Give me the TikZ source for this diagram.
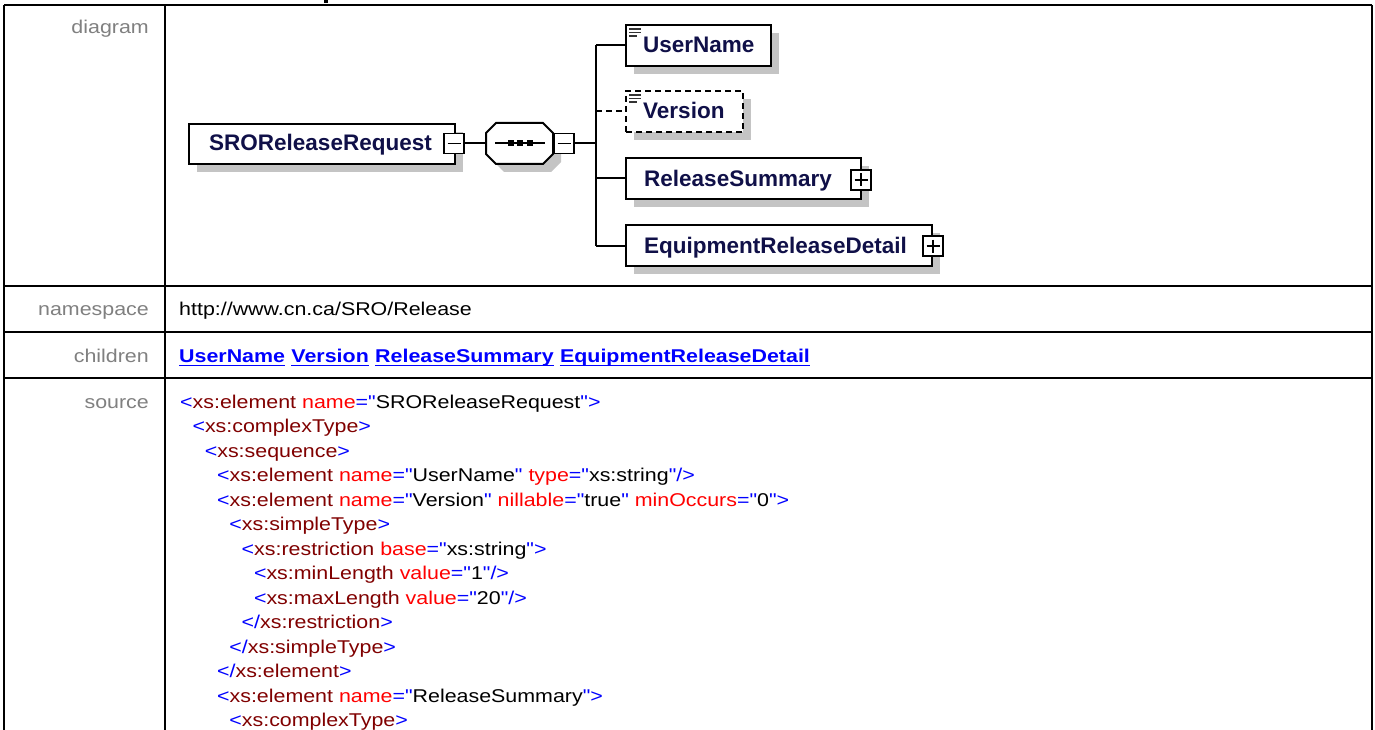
\documentclass[tikz,border=0pt]{standalone}
\usepackage{fontspec}
\setmainfont{Liberation Sans}[Ligatures=TeXOff]
\usetikzlibrary{calc}
\definecolor{xblue}{RGB}{0,0,255}
\definecolor{xtag}{RGB}{128,0,0}
\definecolor{xattr}{RGB}{255,0,0}
\definecolor{lblgray}{RGB}{128,128,128}
\definecolor{elnavy}{RGB}{16,16,72}
\definecolor{shadowgray}{RGB}{196,196,196}
\newcommand\hx[1]{\scalebox{1.157}[1]{#1}}
\newcommand\xo[1]{\textcolor{xblue}{<}\textcolor{xtag}{#1}}
\newcommand\xa[2]{\ \textcolor{xattr}{#1}\textcolor{xblue}{="}#2\textcolor{xblue}{"}}
\newcommand\xc{\textcolor{xblue}{>}}
\newcommand\xe{\textcolor{xblue}{/>}}
\newcommand\xz[1]{\textcolor{xblue}{</}\textcolor{xtag}{#1}\textcolor{xblue}{>}}
\begin{document}
\begin{tikzpicture}[x=1pt,y=-1pt,
  tbl/.style={line width=2.5pt,black},
  lbl/.style={inner sep=0pt,anchor=base east,text=lblgray,font=\fontsize{18.5}{22}\selectfont},
  tabtxt/.style={inner sep=0pt,anchor=base west,font=\fontsize{18.5}{22}\selectfont},
  link/.style={inner sep=0pt,anchor=base west,text=xblue,font=\fontsize{18.5}{22}\selectfont\bfseries},
  uline/.style={line width=1.5pt,xblue},
  elbox/.style={draw=black,line width=2pt,fill=white,inner sep=0pt},
  eltext/.style={inner sep=0pt,anchor=base west,text=elnavy,font=\fontsize{22.5}{27}\selectfont\bfseries},
  pmbox/.style={draw=black,line width=1.5pt,fill=white,minimum size=20pt,inner sep=0pt},
  sign/.style={line width=1.5pt,black},
  conn/.style={line width=2pt,black},
  shad/.style={fill=shadowgray},
  icon/.style={line width=1.5pt,black!80}]
\useasboundingbox (0,0) rectangle (1375,730);
\fill[white] (0,0) rectangle (1375,730);
% cut-off title fragment
\fill[black] (324,0) rectangle (328,3.5);
% table
\draw[tbl] (4,5) -- (1372,5);
\draw[tbl] (4,5) -- (4,732);
\draw[tbl] (1372,5) -- (1372,732);
\draw[tbl] (165,5) -- (165,732);
\draw[tbl] (4,286) -- (1372,286);
\draw[tbl] (4,332) -- (1372,332);
\draw[tbl] (4,378) -- (1372,378);
% labels
\node[lbl] (ldiag) at (149,34) {\hx{diagram}};
\node[lbl] (lns) at (149,315) {\hx{namespace}};
\node[lbl] (lch) at (149,362) {\hx{children}};
\node[lbl] (lsrc) at (149,408) {\hx{source}};
% namespace
\node[tabtxt] (ns) at (179,315) {\hx{http://www.cn.ca/SRO/Release}};
% children links
\node[link] (c1) at (179,362) {\hx{UserName}};
\node[link] (c2) at ($(c1.base east)+(6,0)$) {\hx{Version}};
\node[link] (c3) at ($(c2.base east)+(6,0)$) {\hx{ReleaseSummary}};
\node[link] (c4) at ($(c3.base east)+(6,0)$) {\hx{EquipmentReleaseDetail}};
\foreach \c in {c1,c2,c3,c4}{
  \draw[uline] ($(\c.base west)+(0,3.5)$) -- ($(\c.base east)+(0,3.5)$);
}
% source
\node[tabtxt] (s0) at (180,408) {\hx{\xo{xs:element}\xa{name}{SROReleaseRequest}\xc}};
\node[tabtxt] (s1) at (192.3,432.5) {\hx{\xo{xs:complexType}\xc}};
\node[tabtxt] (s2) at (204.6,457) {\hx{\xo{xs:sequence}\xc}};
\node[tabtxt] (s3) at (216.9,481.5) {\hx{\xo{xs:element}\xa{name}{UserName}\xa{type}{xs:string}\xe}};
\node[tabtxt] (s4) at (216.9,506) {\hx{\xo{xs:element}\xa{name}{Version}\xa{nillable}{true}\xa{minOccurs}{0}\xc}};
\node[tabtxt] (s5) at (229.2,530.5) {\hx{\xo{xs:simpleType}\xc}};
\node[tabtxt] (s6) at (241.5,555) {\hx{\xo{xs:restriction}\xa{base}{xs:string}\xc}};
\node[tabtxt] (s7) at (253.8,579.5) {\hx{\xo{xs:minLength}\xa{value}{1}\xe}};
\node[tabtxt] (s8) at (253.8,604) {\hx{\xo{xs:maxLength}\xa{value}{20}\xe}};
\node[tabtxt] (s9) at (241.5,628.5) {\hx{\xz{xs:restriction}}};
\node[tabtxt] (s10) at (229.2,653) {\hx{\xz{xs:simpleType}}};
\node[tabtxt] (s11) at (216.9,677.5) {\hx{\xz{xs:element}}};
\node[tabtxt] (s12) at (216.9,702) {\hx{\xo{xs:element}\xa{name}{ReleaseSummary}\xc}};
\node[tabtxt] (s13) at (229.2,726.5) {\hx{\xo{xs:complexType}\xc}};
% ---------- diagram ----------
% shadows
\fill[shad] (197,132) rectangle (463,172);
\fill[shad] (634,33) rectangle (779,74);
\fill[shad] (634,99) rectangle (751,140);
\fill[shad] (634,166) rectangle (869,207);
\fill[shad] (634,233) rectangle (940,274);
\fill[shad,shift={(8,8)}] (496,123) -- (543,123) -- (553,133) -- (553,154) -- (543,164) -- (496,164) -- (486,154) -- (486,133) -- cycle;
% connectors
\coordinate (bt) at (596,45.5);
\coordinate (bm) at (596,143.5);
\coordinate (bb) at (596,245.5);
% boxes
\node[elbox,minimum width=266pt,minimum height=40pt] (sro) at (322,144) {};
\node[eltext] (sroT) at (209,151) {SROReleaseRequest};
\node[pmbox] (m1) at (454,143.5) {};
\draw[sign] ($(m1.center)+(-6.5,0)$) -- ($(m1.center)+(6.5,0)$);
\node[inner sep=0pt,minimum width=67pt,minimum height=41pt] (seq) at (519.5,143.5) {};
\draw[line width=2pt,fill=white] (496,123) -- (543,123) -- (553,133) -- (553,154) -- (543,164) -- (496,164) -- (486,154) -- (486,133) -- cycle;
\draw[line width=2pt] (495,143.5) -- (545,143.5);
\fill (507.5,140.5) rectangle (513.5,146.5);
\fill (517,140.5) rectangle (523,146.5);
\fill (527,140.5) rectangle (533,146.5);
\node[pmbox] (m2) at (564,143.5) {};
\draw[sign] ($(m2.center)+(-6.5,0)$) -- ($(m2.center)+(6.5,0)$);
\draw[conn] (m1.east) -- (seq.west);
\draw[conn] (m2.east) -- (bm);
\draw[conn] (bt) -- (bb);
% children
\node[elbox,minimum width=145pt,minimum height=41pt] (un) at (698.5,45.5) {};
\node[eltext] (unT) at (643,53) {UserName};
\node[elbox,minimum width=117pt,minimum height=41pt,dash pattern=on 6pt off 4pt] (ver) at (684.5,111.5) {};
\node[eltext] (verT) at (643,119) {Version};
\node[elbox,minimum width=235pt,minimum height=41pt] (rs) at (743.5,178.5) {};
\node[eltext] (rsT) at (644,186) {ReleaseSummary};
\node[pmbox] (p1) at (861,180) {};
\draw[sign] ($(p1.center)+(-6.5,0)$) -- ($(p1.center)+(6.5,0)$);
\draw[sign] ($(p1.center)+(0,-6.5)$) -- ($(p1.center)+(0,6.5)$);
\node[elbox,minimum width=306pt,minimum height=41pt] (erd) at (779,245.5) {};
\node[eltext] (erdT) at (644,253) {EquipmentReleaseDetail};
\node[pmbox] (p2) at (933,246) {};
\draw[sign] ($(p2.center)+(-6.5,0)$) -- ($(p2.center)+(6.5,0)$);
\draw[sign] ($(p2.center)+(0,-6.5)$) -- ($(p2.center)+(0,6.5)$);
\draw[conn] (bt) -- (un.west);
\draw[conn,dash pattern=on 6pt off 4pt] (bt |- ver.west) -- (ver.west);
\draw[conn] (bt |- rs.west) -- (rs.west);
\draw[conn] (bb) -- (erd.west);
% icons
\draw[icon] (629,29) -- (641,29);
\draw[icon] (629,32.5) -- (641,32.5);
\draw[icon] (629,36) -- (637,36);
\draw[icon] (629,95) -- (641,95);
\draw[icon] (629,98.5) -- (641,98.5);
\draw[icon] (629,102) -- (637,102);
\end{tikzpicture}
\end{document}
